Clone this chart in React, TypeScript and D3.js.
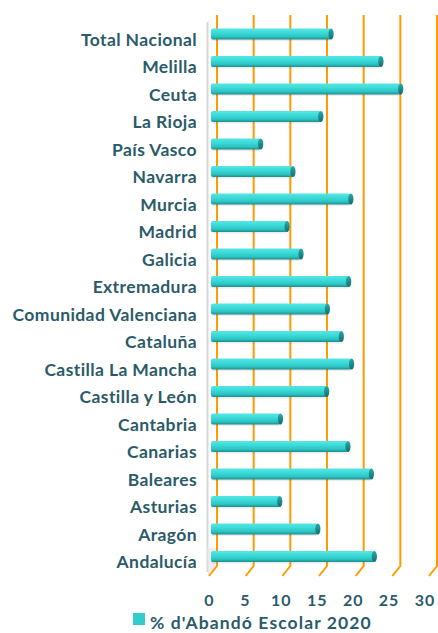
import React from 'react';
import * as d3 from 'd3';

const regions = [
  'Total Nacional', 'Melilla', 'Ceuta', 'La Rioja', 'País Vasco', 'Navarra', 'Murcia', 'Madrid',
  'Galicia', 'Extremadura', 'Comunidad Valenciana', 'Cataluña', 'Castilla La Mancha',
  'Castilla y León', 'Cantabria', 'Canarias', 'Baleares', 'Asturias', 'Aragón', 'Andalucía'
];
const abandono = [
  16.1, 22.9, 25.6, 14.7, 6.5, 10.9, 18.8, 10.1, 12.0, 18.5,
  15.6, 17.5, 18.9, 15.5, 9.2, 18.4, 21.6, 9.1, 14.3, 22.0
];
const xTicks = [0, 5, 10, 15, 20, 25, 30];
const seriesName = "% d'Abandó Escolar 2020";

const W = 438, H = 633;
const depthX = 8, depthY = 10;
const textColor = '#2b5b69';
const font = 'Lato, "Open Sans", sans-serif';

export default function App() {
  const x = d3.scaleLinear().domain([0, 30]).range([209, 429]);
  // tick labels sit a bit in front of the floor edge, so they spread slightly less
  const xLabel = d3.scaleLinear().domain([0, 30]).range([209, 424.5]);
  const y = d3.scalePoint().domain(regions).range([39, 561.5]);
  const floorY = 576;
  const barH = 11;

  return (
    <svg width={W} height={H} style={{ position: 'absolute', left: 0, top: 0, background: '#fff' }}>
      <defs>
        <linearGradient id="barGrad" x1="0" y1="0" x2="0" y2="1">
          <stop offset="0" stopColor="#56e6e4" />
          <stop offset="0.35" stopColor="#3ddcda" />
          <stop offset="0.75" stopColor="#2cc4c3" />
          <stop offset="1" stopColor="#1c8c8c" />
        </linearGradient>
        <linearGradient id="capGrad" x1="0" y1="0" x2="0" y2="1">
          <stop offset="0" stopColor="#2aa9a8" />
          <stop offset="1" stopColor="#166d6e" />
        </linearGradient>
      </defs>

      {/* left wall */}
      <line x1={207.5} x2={207.5} y1={22} y2={572} stroke="#d8d8d8" strokeWidth={2} />
      <path d={`M207,548 L217,548 L217,566 L208,576 Z`} fill="#e6e6e6" opacity={0.7} />

      {/* grid */}
      <g>
        {xTicks.map(t => (
          <path
            key={t}
            d={`M${x(t) + depthX},15 L${x(t) + depthX},${floorY - depthY} L${x(t)},${floorY}`}
            fill="none"
            stroke="#ff9a00"
            strokeWidth={2}
          />
        ))}
      </g>

      {/* bars */}
      <g>
        {regions.map((r, i) => {
          const cy = (y(r) as number) - 5;
          const x1 = x(abandono[i]) + depthX / 2;
          return (
            <g key={r}>
              <rect x={211} y={cy - barH / 2 + 1.5} width={x1 - 211} height={barH} rx={2} fill="#000" opacity={0.08} />
              <rect x={211} y={cy - barH / 2} width={x1 - 211} height={barH} rx={2} fill="url(#barGrad)" />
              <ellipse cx={x1} cy={cy} rx={2.6} ry={barH / 2} fill="url(#capGrad)" />
            </g>
          );
        })}
      </g>

      {/* category labels */}
      <g fontFamily={font} fontWeight="bold" fontSize={17.5} letterSpacing={0.4} fill={textColor} textAnchor="end">
        {regions.map(r => (
          <text key={r} x={197} y={y(r) as number} dominantBaseline="central">{r}</text>
        ))}
      </g>

      {/* x tick labels */}
      <g fontFamily={font} fontWeight="bold" fontSize={16} letterSpacing={1} fill={textColor} textAnchor="middle">
        {xTicks.map(t => (
          <text key={t} x={xLabel(t) + 0.5} y={606}>{t}</text>
        ))}
      </g>

      {/* legend */}
      <rect x={133} y={613} width={12} height={12} fill="#33cccc" />
      <text x={150} y={629} fontFamily={font} fontWeight="bold" fontSize={17.5} letterSpacing={1.1} fill={textColor}>
        {seriesName}
      </text>
    </svg>
  );
}
